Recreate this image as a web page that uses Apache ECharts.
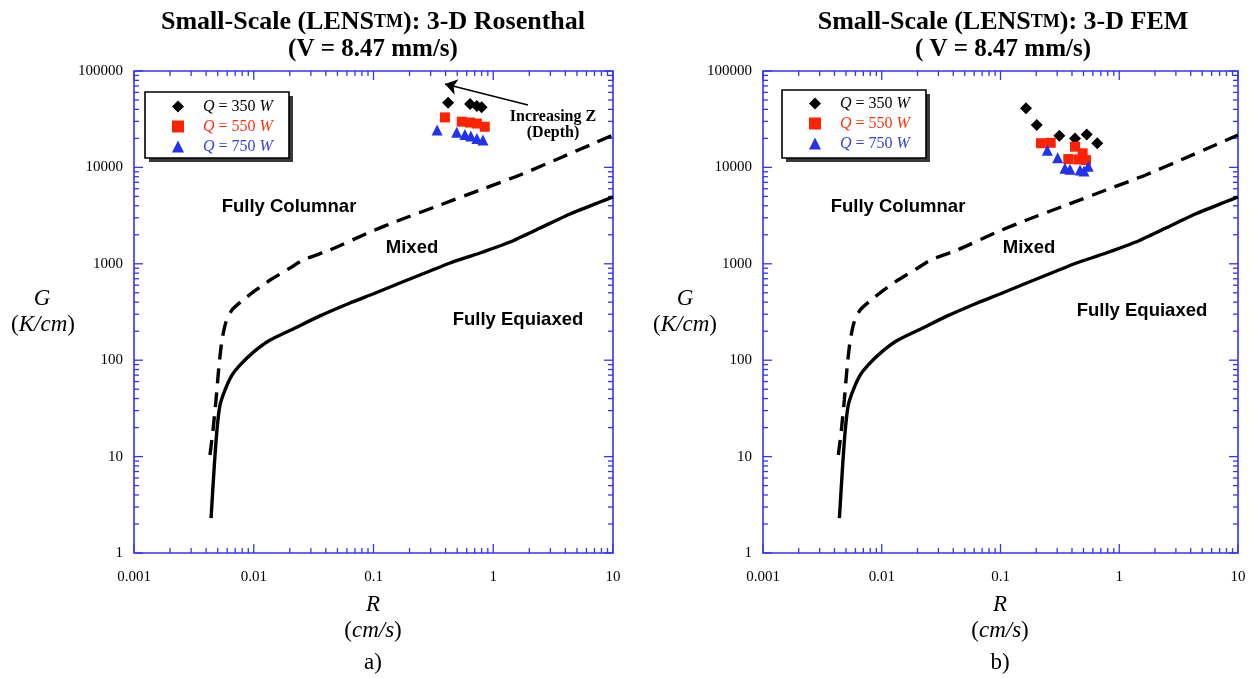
<!DOCTYPE html>
<html><head><meta charset="utf-8">
<script src="https://cdn.jsdelivr.net/npm/echarts@6/dist/echarts.min.js"></script>
<style>html,body{margin:0;padding:0;background:#fff}#c{width:1249px;height:678px}</style>
</head><body><div id="c"></div>
<script>
// ---------- tick labels ----------
const xTickLabels = ['0.001', '0.01', '0.1', '1', '10'];
const yTickLabels = ['1', '10', '100', '1000', '10000', '100000'];

// ---------- CET boundary curves (same in both panels) ----------
const dashedR = [0.00431, 0.00457, 0.00484, 0.00513, 0.00543, 0.00586, 0.00658, 0.00813, 0.01045, 0.0137, 0.0201, 0.0258, 0.0433, 0.0935, 0.166, 0.359, 0.775, 1.67, 3.61, 6.43, 10];
const dashedG = [10.4, 18.9, 38.7, 89, 162, 249, 332, 421, 535, 679, 904, 1095, 1390, 2137, 2845, 4070, 5830, 8340, 12530, 17070, 21700];
const solidR = [0.0044, 0.00466, 0.00493, 0.00522, 0.00575, 0.00658, 0.00767, 0.01, 0.0137, 0.0213, 0.0357, 0.0637, 0.099, 0.166, 0.296, 0.436, 0.775, 1.38, 2.46, 4.37, 7.78, 10];
const solidG = [2.3, 7.3, 18.9, 34, 49, 70, 89, 122, 162, 211, 288, 392, 486, 632, 842, 1019, 1294, 1683, 2350, 3290, 4375, 4930];

// ---------- a) 3-D Rosenthal ----------
const rosQ350R = [0.42, 0.64, 0.73, 0.80];
const rosQ350G = [46900, 45500, 43300, 42000];
const rosQ550R = [0.395, 0.546, 0.64, 0.73, 0.85];
const rosQ550G = [33000, 29800, 29200, 28500, 26400];
const rosQ750R = [0.34, 0.495, 0.58, 0.65, 0.73, 0.82];
const rosQ750G = [24400, 23100, 22000, 21200, 20000, 19200];

// ---------- b) 3-D FEM ----------
const femQ350R = [0.164, 0.202, 0.313, 0.424, 0.532, 0.653];
const femQ350G = [41000, 27500, 21300, 20000, 22000, 17800];
const femQ550R = [0.219, 0.265, 0.424, 0.372, 0.492, 0.452, 0.525];
const femQ550G = [17800, 18000, 16400, 12200, 14000, 12100, 11900];
const femQ750R = [0.248, 0.303, 0.349, 0.385, 0.468, 0.505, 0.548];
const femQ750G = [15100, 12600, 9800, 9550, 9400, 9180, 10300];

const seriesNames = ['Q = 350 W', 'Q = 550 W', 'Q = 750 W'];
const legendLabels = ['{p|}{i|Q} = 350 {i|W}', '{p|}{i|Q} = 550 {i|W}', '{p|}{i|Q} = 750 {i|W}'];
const markerColors = ['#000000', '#ff2200', '#2233ee'];
const legendTextColors = ['#000000', '#ff3311', '#3344dd'];
const markerSymbols = ['diamond', 'rect', 'triangle'];
const markerSizes = [12, 10, 11];

const AXIS_COLOR = '#3333ff';
const SERIF = 'Liberation Serif';
const SANS = 'Liberation Sans';

const zip = (a, b) => a.map((v, i) => [v, b[i]]);

// tick values (decades + 2..9 minors)
function logTicks(lo, hi) {
  const out = [];
  for (let e = lo; e < hi; e++) {
    for (let m = 1; m <= 9; m++) out.push([m * Math.pow(10, e), m === 1 ? 1 : 0]);
  }
  out.push([Math.pow(10, hi), 1]);
  return out;
}
const xTicks = logTicks(-3, 1);
const yTicks = logTicks(0, 5);

function tickSeries(g, dir) {
  const data = dir === 'x' ? xTicks.map(t => [t[0], 10, t[1]]) : yTicks.map(t => [0.01, t[0], t[1]]);
  return {
    type: 'custom', xAxisIndex: g, yAxisIndex: g, silent: true, clip: false, z: 1,
    data: data,
    renderItem: function (params, api) {
      const cs = params.coordSys;
      const p = api.coord([api.value(0), api.value(1)]);
      const L = api.value(2) === 1 ? 9 : 5;
      const st = { stroke: AXIS_COLOR, lineWidth: 1.3 };
      if (dir === 'x') {
        const b = cs.y + cs.height, t = cs.y;
        return { type: 'group', children: [
          { type: 'line', shape: { x1: p[0], y1: b, x2: p[0], y2: b - L }, style: st },
          { type: 'line', shape: { x1: p[0], y1: t, x2: p[0], y2: t + L }, style: st }
        ] };
      } else {
        const l = cs.x, r = cs.x + cs.width;
        return { type: 'group', children: [
          { type: 'line', shape: { x1: l, y1: p[1], x2: l + L, y2: p[1] }, style: st },
          { type: 'line', shape: { x1: r, y1: p[1], x2: r - L, y2: p[1] }, style: st }
        ] };
      }
    }
  };
}

function curveSeries(g, R, G, dashed) {
  return {
    type: 'line', xAxisIndex: g, yAxisIndex: g, data: zip(R, G), showSymbol: false, symbol: 'none',
    silent: true, z: 3, smooth: 0.2,
    lineStyle: { color: '#000', width: 3.4, type: dashed ? [15, 9] : 'solid', cap: 'butt' }
  };
}

function scatterSeries(g, k, R, G, extra) {
  return Object.assign({
    type: 'scatter', name: seriesNames[k], xAxisIndex: g, yAxisIndex: g, data: zip(R, G),
    symbol: markerSymbols[k], symbolSize: markerSizes[k], z: 4,
    itemStyle: { color: markerColors[k], opacity: 1 }
  }, extra || {});
}

function legendOpt(left, top) {
  return {
    left: left, top: top, orient: 'vertical', selectedMode: false,
    backgroundColor: 'transparent', borderWidth: 0,
    padding: [4, 14, 4, 27], itemGap: 1, itemWidth: 12, itemHeight: 12, z: 6,
    formatter: function (name) { return legendLabels[seriesNames.indexOf(name)]; },
    data: seriesNames.map((n, i) => ({
      name: n,
      textStyle: { color: legendTextColors[i], fontFamily: SERIF, fontSize: 16, lineHeight: 19,
        rich: { i: { fontStyle: 'italic', fontFamily: SERIF, fontSize: 16, color: legendTextColors[i] },
                p: { width: 14 } } }
    })),
    textStyle: { fontFamily: SERIF, fontSize: 16, lineHeight: 19,
      rich: { i: { fontStyle: 'italic', fontFamily: SERIF, fontSize: 16 }, p: { width: 14 } } }
  };
}

const xAxisBase = {
  type: 'log', logBase: 10, min: 0.001, max: 10,
  axisLine: { show: false }, axisTick: { show: false }, splitLine: { show: false },
  axisLabel: { margin: 17, fontFamily: SERIF, fontSize: 15, color: '#000',
    formatter: v => xTickLabels[Math.round(Math.log10(v)) + 3] }
};
const yAxisBase = {
  type: 'log', logBase: 10, min: 1, max: 100000,
  axisLine: { show: false }, axisTick: { show: false }, splitLine: { show: false },
  axisLabel: { margin: 11, fontFamily: SERIF, fontSize: 15, color: '#000',
    formatter: v => yTickLabels[Math.round(Math.log10(v))] }
};

function txt(x, y, text, size, opts) {
  return { type: 'text', x: x, y: y, silent: true, z: 10,
    style: Object.assign({ text: text, fill: '#000', fontFamily: SERIF, fontSize: size,
      align: 'center', verticalAlign: 'middle' }, opts || {}) };
}
function legendBox(x, y, w, h) {
  return [
    { type: 'rect', z: 5, silent: true, shape: { x: x + 4, y: y + 4, width: w, height: h }, style: { fill: '#3a3a3a' } },
    { type: 'rect', z: 5, silent: true, shape: { x: x, y: y, width: w, height: h }, style: { fill: '#fff', stroke: '#000', lineWidth: 1.6 } }
  ];
}
const titleRich = { tm: { fontFamily: SERIF, fontWeight: 'bold', fontSize: 18, fill: '#000' } };
const italRich = { i: { fontFamily: SERIF, fontStyle: 'italic', fontSize: 23, fill: '#000' } };
const boldSans = { fontFamily: SANS, fontWeight: 'bold' };

const graphics = [
  ...legendBox(145, 92, 144, 66),
  ...legendBox(782, 90, 144, 68),
  // titles
  txt(373, 22, 'Small-Scale (LENS{tm|TM}): 3-D Rosenthal', 26, { fontWeight: 'bold', rich: titleRich }),
  txt(373, 50, '(V = 8.47 mm/s)', 25, { fontWeight: 'bold' }),
  txt(1003, 22, 'Small-Scale (LENS{tm|TM}): 3-D FEM', 26, { fontWeight: 'bold', rich: titleRich }),
  txt(1003, 50, '( V = 8.47 mm/s)', 25, { fontWeight: 'bold' }),
  // axis names
  txt(42, 299, 'G', 23, { fontStyle: 'italic' }),
  txt(43, 325, '({i|K/cm})', 23, { rich: italRich }),
  txt(685, 299, 'G', 23, { fontStyle: 'italic' }),
  txt(685, 325, '({i|K/cm})', 23, { rich: italRich }),
  txt(373, 605, 'R', 23, { fontStyle: 'italic' }),
  txt(373, 631, '({i|cm/s})', 23, { rich: italRich }),
  txt(1000, 605, 'R', 23, { fontStyle: 'italic' }),
  txt(1000, 631, '({i|cm/s})', 23, { rich: italRich }),
  txt(373, 663, 'a)', 23),
  txt(1000, 663, 'b)', 23),
  // region labels
  txt(289, 207, 'Fully Columnar', 18.5, boldSans),
  txt(412, 248, 'Mixed', 18.5, boldSans),
  txt(518, 320, 'Fully Equiaxed', 18.5, boldSans),
  txt(898, 207, 'Fully Columnar', 18.5, boldSans),
  txt(1029, 248, 'Mixed', 18.5, boldSans),
  txt(1142, 311, 'Fully Equiaxed', 18.5, boldSans),
  // annotation
  txt(553, 117, 'Increasing Z', 16, { fontWeight: 'bold' }),
  txt(553, 133, '(Depth)', 16, { fontWeight: 'bold' })
];

const option = {
  backgroundColor: '#fff',
  animation: false,
  grid: [
    { left: 134, right: 636, top: 71, bottom: 125, show: true, borderColor: AXIS_COLOR, borderWidth: 1.6, backgroundColor: 'transparent' },
    { left: 763, right: 11, top: 71, bottom: 125, show: true, borderColor: AXIS_COLOR, borderWidth: 1.6, backgroundColor: 'transparent' }
  ],
  xAxis: [Object.assign({ gridIndex: 0 }, xAxisBase), Object.assign({ gridIndex: 1 }, xAxisBase)],
  yAxis: [Object.assign({ gridIndex: 0 }, yAxisBase), Object.assign({ gridIndex: 1 }, yAxisBase)],
  legend: [legendOpt(145, 93), legendOpt(782, 90)],
  graphic: graphics,
  series: [
    tickSeries(0, 'x'), tickSeries(0, 'y'), tickSeries(1, 'x'), tickSeries(1, 'y'),
    curveSeries(0, dashedR, dashedG, true), curveSeries(0, solidR, solidG, false),
    curveSeries(1, dashedR, dashedG, true), curveSeries(1, solidR, solidG, false),
    scatterSeries(0, 0, rosQ350R, rosQ350G, {
      markLine: { silent: true, symbol: ['none', 'arrow'], symbolSize: 12, label: { show: false },
        lineStyle: { color: '#000', width: 1.5, type: 'solid' },
        data: [[{ coord: [1.95, 44400] }, { coord: [0.395, 73300] }]] }
    }),
    scatterSeries(0, 1, rosQ550R, rosQ550G),
    scatterSeries(0, 2, rosQ750R, rosQ750G),
    scatterSeries(1, 0, femQ350R, femQ350G),
    scatterSeries(1, 1, femQ550R, femQ550G),
    scatterSeries(1, 2, femQ750R, femQ750G)
  ]
};

const chart = echarts.init(document.getElementById('c'), null, { renderer: 'canvas' });
chart.setOption(option);
</script>
</body></html>
